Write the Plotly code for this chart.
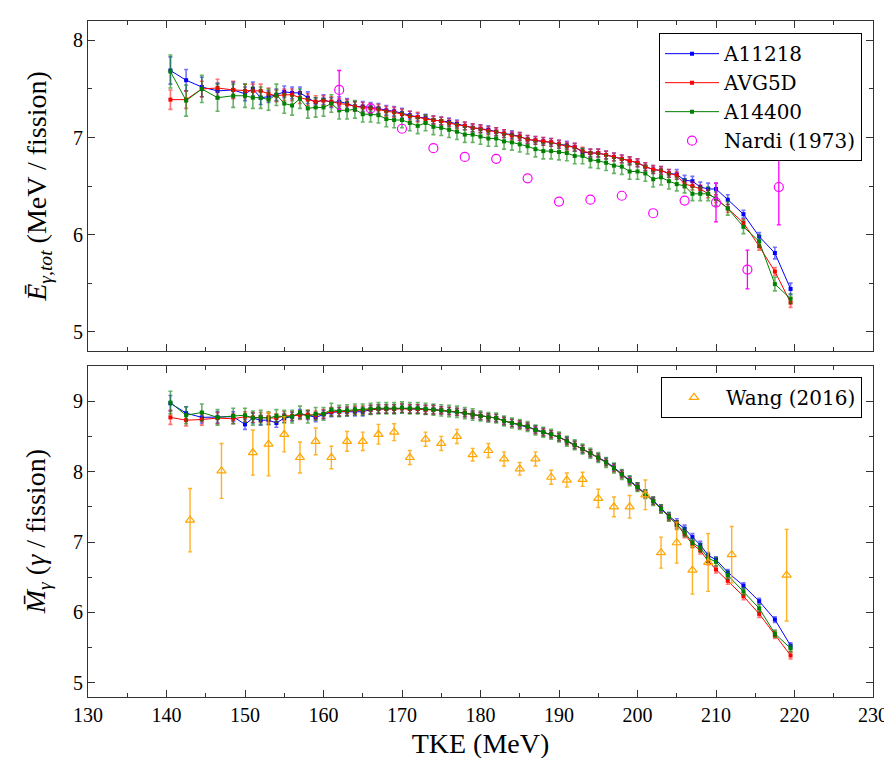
import plotly.graph_objects as go

# ---------------- data ----------------
tke = [140.5, 142.5, 144.5, 146.5, 148.5,
       150, 151, 152, 153, 154, 155, 156, 157, 158, 159,
       160, 161, 162, 163, 164, 165, 166, 167, 168, 169,
       170, 171, 172, 173, 174, 175, 176, 177, 178, 179,
       180, 181, 182, 183, 184, 185, 186, 187, 188, 189,
       190, 191, 192, 193, 194, 195, 196, 197, 198, 199,
       200, 201, 202, 203, 204, 205, 206, 207, 208, 209,
       210,
       211.5, 213.5, 215.5, 217.5, 219.5]

# Top panel: mean total gamma energy (MeV / fission)
e_a11218 = [7.69, 7.59, 7.52, 7.48, 7.49,
            7.45, 7.50, 7.41, 7.42, 7.44, 7.47, 7.46, 7.46, 7.41, 7.36,
            7.39, 7.36, 7.37, 7.35, 7.32, 7.32, 7.31, 7.30, 7.28, 7.27,
            7.25, 7.23, 7.21, 7.20, 7.18, 7.17, 7.16, 7.14, 7.12, 7.10,
            7.09, 7.08, 7.06, 7.04, 7.03, 7.01, 6.98, 6.97, 6.96, 6.95,
            6.93, 6.92, 6.90, 6.85, 6.84, 6.84, 6.82, 6.80, 6.78, 6.76,
            6.74, 6.70, 6.67, 6.66, 6.63, 6.62, 6.56, 6.55, 6.49, 6.47,
            6.47,
            6.36, 6.21, 5.98, 5.81, 5.44]
e_a11218_err = [0.14, 0.11, 0.10, 0.08, 0.08,
                0.07, 0.07, 0.07, 0.06, 0.06, 0.06, 0.06, 0.06, 0.06, 0.05,
                0.05, 0.05, 0.05, 0.05, 0.05, 0.05, 0.05, 0.05, 0.05, 0.05,
                0.05, 0.04, 0.04, 0.04, 0.04, 0.04, 0.04, 0.04, 0.04, 0.04,
                0.04, 0.04, 0.04, 0.04, 0.04, 0.04, 0.04, 0.04, 0.04, 0.04,
                0.04, 0.04, 0.04, 0.04, 0.04, 0.04, 0.04, 0.04, 0.04, 0.04,
                0.04, 0.04, 0.04, 0.04, 0.04, 0.05, 0.05, 0.05, 0.05, 0.06,
                0.06,
                0.05, 0.04, 0.04, 0.06, 0.06]

e_avg5d = [7.39, 7.39, 7.50, 7.51, 7.49,
           7.48, 7.48, 7.48, 7.45, 7.43, 7.44, 7.44, 7.41, 7.39, 7.37,
           7.38, 7.37, 7.35, 7.34, 7.32, 7.31, 7.30, 7.29, 7.27, 7.26,
           7.24, 7.22, 7.21, 7.19, 7.18, 7.17, 7.15, 7.13, 7.12, 7.10,
           7.09, 7.07, 7.06, 7.04, 7.02, 7.01, 6.98, 6.97, 6.96, 6.95,
           6.93, 6.91, 6.90, 6.86, 6.84, 6.84, 6.82, 6.80, 6.78, 6.76,
           6.74, 6.70, 6.67, 6.66, 6.63, 6.61, 6.52, 6.50, 6.47, 6.42,
           6.37,
           6.27, 6.12, 5.88, 5.62, 5.30]
e_avg5d_err = [0.10, 0.09, 0.08, 0.09, 0.09,
               0.07, 0.07, 0.07, 0.06, 0.06, 0.06, 0.06, 0.06, 0.06, 0.06,
               0.05, 0.05, 0.05, 0.05, 0.05, 0.05, 0.05, 0.05, 0.05, 0.05,
               0.05, 0.05, 0.05, 0.04, 0.04, 0.04, 0.04, 0.04, 0.04, 0.04,
               0.04, 0.04, 0.04, 0.04, 0.04, 0.04, 0.04, 0.04, 0.04, 0.04,
               0.04, 0.04, 0.04, 0.04, 0.04, 0.04, 0.04, 0.04, 0.04, 0.04,
               0.04, 0.04, 0.04, 0.04, 0.04, 0.04, 0.04, 0.04, 0.04, 0.04,
               0.04,
               0.04, 0.04, 0.04, 0.04, 0.05]

e_a14400 = [7.68, 7.38, 7.50, 7.41, 7.43,
            7.43, 7.41, 7.41, 7.39, 7.44, 7.35, 7.33, 7.40, 7.30, 7.31,
            7.31, 7.35, 7.28, 7.28, 7.29, 7.24, 7.24, 7.23, 7.19, 7.18,
            7.18, 7.15, 7.12, 7.15, 7.11, 7.10, 7.08, 7.06, 7.03, 7.03,
            7.01, 6.99, 6.99, 6.96, 6.95, 6.93, 6.91, 6.88, 6.86, 6.86,
            6.85, 6.84, 6.81, 6.81, 6.77, 6.76, 6.74, 6.71, 6.70, 6.65,
            6.65, 6.63, 6.57, 6.59, 6.55, 6.52, 6.50, 6.42, 6.42, 6.42,
            6.37,
            6.27, 6.08, 5.93, 5.49, 5.34]
e_a14400_err = [0.17, 0.16, 0.14, 0.14, 0.12,
                0.12, 0.11, 0.11, 0.11, 0.11, 0.10, 0.10, 0.10, 0.10, 0.10,
                0.09, 0.09, 0.09, 0.09, 0.09, 0.08, 0.08, 0.08, 0.08, 0.08,
                0.08, 0.08, 0.08, 0.08, 0.08, 0.08, 0.08, 0.08, 0.08, 0.08,
                0.08, 0.08, 0.08, 0.08, 0.08, 0.08, 0.08, 0.08, 0.08, 0.08,
                0.08, 0.08, 0.08, 0.08, 0.08, 0.08, 0.08, 0.08, 0.08, 0.08,
                0.08, 0.08, 0.08, 0.08, 0.08, 0.07, 0.07, 0.07, 0.07, 0.07,
                0.07,
                0.07, 0.07, 0.06, 0.07, 0.05]

# Nardi (1973): all points, and the subset that carries error bars
nardi_tke = [162, 166, 170, 174, 178, 182, 186, 190, 194, 198, 202, 206, 210, 214, 218]
nardi_e = [7.49, 7.30, 7.09, 6.89, 6.80, 6.78, 6.58, 6.34, 6.36, 6.40, 6.22, 6.35, 6.33, 5.64, 6.49]
nardi_err_tke = [162, 210, 214, 218]
nardi_err_e = [7.49, 6.33, 5.64, 6.49]
nardi_err = [0.20, 0.20, 0.20, 0.39]

# Bottom panel: mean gamma multiplicity
m_a11218 = [8.97, 8.83, 8.77, 8.77, 8.78,
            8.67, 8.76, 8.73, 8.73, 8.69, 8.76, 8.78, 8.82, 8.80, 8.77,
            8.81, 8.84, 8.85, 8.85, 8.85, 8.85, 8.88, 8.89, 8.89, 8.89,
            8.90, 8.89, 8.89, 8.88, 8.88, 8.87, 8.86, 8.85, 8.83, 8.81,
            8.79, 8.77, 8.76, 8.72, 8.69, 8.67, 8.64, 8.60, 8.56, 8.53,
            8.49, 8.44, 8.38, 8.32, 8.26, 8.20, 8.14, 8.06, 7.97, 7.88,
            7.79, 7.69, 7.59, 7.48, 7.37, 7.28, 7.19, 7.07, 6.96, 6.81,
            6.75,
            6.57, 6.38, 6.16, 5.90, 5.53]
m_a11218_err = [0.11, 0.09, 0.08, 0.08, 0.07,
                0.07, 0.07, 0.07, 0.06, 0.06, 0.06, 0.06, 0.06, 0.06, 0.06,
                0.06, 0.06, 0.06, 0.06, 0.06, 0.06, 0.06, 0.06, 0.06, 0.06,
                0.06, 0.06, 0.06, 0.06, 0.06, 0.05, 0.05, 0.05, 0.05, 0.05,
                0.05, 0.05, 0.05, 0.05, 0.05, 0.05, 0.05, 0.05, 0.05, 0.05,
                0.05, 0.05, 0.05, 0.05, 0.05, 0.05, 0.05, 0.05, 0.05, 0.05,
                0.05, 0.05, 0.05, 0.05, 0.05, 0.05, 0.05, 0.05, 0.05, 0.04,
                0.04,
                0.04, 0.04, 0.04, 0.04, 0.04]

m_avg5d = [8.77, 8.73, 8.74, 8.76, 8.75,
           8.78, 8.77, 8.77, 8.77, 8.76, 8.79, 8.79, 8.80, 8.81, 8.80,
           8.82, 8.85, 8.85, 8.86, 8.87, 8.87, 8.88, 8.89, 8.89, 8.89,
           8.90, 8.89, 8.89, 8.88, 8.88, 8.87, 8.86, 8.85, 8.83, 8.81,
           8.79, 8.77, 8.76, 8.72, 8.69, 8.67, 8.64, 8.59, 8.56, 8.53,
           8.49, 8.43, 8.38, 8.32, 8.26, 8.20, 8.13, 8.05, 7.96, 7.87,
           7.78, 7.68, 7.58, 7.47, 7.35, 7.25, 7.11, 6.97, 6.88, 6.73,
           6.61,
           6.45, 6.23, 5.98, 5.68, 5.39]
m_avg5d_err = [0.10, 0.08, 0.08, 0.08, 0.07,
               0.07, 0.07, 0.07, 0.06, 0.06, 0.06, 0.06, 0.06, 0.06, 0.06,
               0.06, 0.06, 0.06, 0.06, 0.06, 0.06, 0.06, 0.06, 0.06, 0.06,
               0.06, 0.06, 0.06, 0.06, 0.06, 0.05, 0.05, 0.05, 0.05, 0.05,
               0.05, 0.05, 0.05, 0.05, 0.05, 0.05, 0.05, 0.05, 0.05, 0.05,
               0.05, 0.05, 0.05, 0.05, 0.05, 0.05, 0.05, 0.05, 0.05, 0.05,
               0.05, 0.05, 0.05, 0.05, 0.05, 0.05, 0.05, 0.05, 0.05, 0.05,
               0.05,
               0.05, 0.05, 0.05, 0.05, 0.05]

m_a14400 = [8.98, 8.80, 8.84, 8.77, 8.79,
            8.80, 8.76, 8.77, 8.76, 8.79, 8.78, 8.78, 8.84, 8.78, 8.82,
            8.82, 8.88, 8.86, 8.87, 8.88, 8.88, 8.89, 8.90, 8.90, 8.90,
            8.91, 8.90, 8.90, 8.89, 8.88, 8.87, 8.86, 8.85, 8.83, 8.81,
            8.79, 8.77, 8.76, 8.72, 8.69, 8.67, 8.64, 8.59, 8.56, 8.53,
            8.49, 8.43, 8.38, 8.32, 8.26, 8.20, 8.13, 8.05, 7.96, 7.87,
            7.78, 7.68, 7.58, 7.47, 7.36, 7.24, 7.14, 6.99, 6.92, 6.77,
            6.72,
            6.53, 6.30, 6.06, 5.70, 5.49]
m_a14400_err = [0.16, 0.12, 0.12, 0.11, 0.11,
                0.10, 0.10, 0.10, 0.09, 0.09, 0.09, 0.09, 0.09, 0.09, 0.09,
                0.09, 0.09, 0.08, 0.08, 0.08, 0.08, 0.08, 0.08, 0.08, 0.08,
                0.08, 0.08, 0.08, 0.08, 0.08, 0.08, 0.08, 0.08, 0.08, 0.08,
                0.07, 0.07, 0.07, 0.07, 0.07, 0.07, 0.07, 0.07, 0.07, 0.07,
                0.07, 0.07, 0.07, 0.07, 0.07, 0.07, 0.07, 0.07, 0.07, 0.07,
                0.06, 0.06, 0.06, 0.06, 0.06, 0.06, 0.06, 0.06, 0.06, 0.06,
                0.06,
                0.05, 0.05, 0.05, 0.05, 0.05]

wang_tke = [143, 147, 151, 153, 155, 157, 159, 161, 163, 165, 167, 169, 171, 173, 175,
            177, 179, 181, 183, 185, 187, 189, 191, 193, 195, 197, 199, 201, 203, 205,
            207, 209, 212, 219]
wang_m = [7.31, 8.01, 8.27, 8.39, 8.53, 8.20, 8.43, 8.20, 8.43, 8.43, 8.53, 8.56, 8.20, 8.46, 8.40,
          8.50, 8.24, 8.30, 8.18, 8.04, 8.18, 7.92, 7.88, 7.89, 7.62, 7.50, 7.50, 7.67, 6.85, 6.99,
          6.60, 6.71, 6.82, 6.53]
wang_err = [0.45, 0.39, 0.32, 0.45, 0.25, 0.22, 0.19, 0.16, 0.14, 0.13, 0.14, 0.12, 0.10, 0.10, 0.10,
            0.10, 0.09, 0.10, 0.10, 0.09, 0.10, 0.10, 0.10, 0.10, 0.13, 0.14, 0.16, 0.21, 0.22, 0.29,
            0.34, 0.41, 0.40, 0.65]

# ---------------- figure ----------------
TICKFONT = "Liberation Serif"
TITLEFONT = "Liberation Serif"
LEGENDFONT = "DejaVu Serif"
models = [
    ("A11218", "#0000ff", "rgba(0,0,255,0.55)", e_a11218, e_a11218_err, m_a11218, m_a11218_err),
    ("AVG5D", "#ff0000", "rgba(255,0,0,0.55)", e_avg5d, e_avg5d_err, m_avg5d, m_avg5d_err),
    ("A14400", "#008000", "rgba(0,128,0,0.6)", e_a14400, e_a14400_err, m_a14400, m_a14400_err),
]

fig = go.Figure()
for name, col, ecol, ey, eerr, my, merr in models:
    fig.add_trace(go.Scatter(
        x=tke, y=ey, name=name, mode="lines+markers", xaxis="x", yaxis="y",
        line=dict(color=col, width=1), marker=dict(symbol="square", size=4, color=col),
        error_y=dict(type="data", array=eerr, color=ecol, thickness=1.6, width=2),
        legend="legend"))
fig.add_trace(go.Scatter(
    x=nardi_err_tke, y=nardi_err_e, name="Nardi (1973)", mode="markers", xaxis="x", yaxis="y",
    marker=dict(symbol="circle-open", size=9, color="rgba(0,0,0,0)"),
    error_y=dict(type="data", array=nardi_err, color="#ff00ff", thickness=1.3, width=2),
    showlegend=False, hoverinfo="skip"))
fig.add_trace(go.Scatter(
    x=nardi_tke, y=nardi_e, name="Nardi (1973)", mode="markers", xaxis="x", yaxis="y",
    marker=dict(symbol="circle-open", size=9, color="#ff00ff", line=dict(width=1.2)),
    legend="legend"))

for name, col, ecol, ey, eerr, my, merr in models:
    fig.add_trace(go.Scatter(
        x=tke, y=my, name=name, mode="lines+markers", xaxis="x2", yaxis="y2",
        line=dict(color=col, width=1), marker=dict(symbol="square", size=4, color=col),
        error_y=dict(type="data", array=merr, color=ecol, thickness=1.6, width=2),
        showlegend=False))
fig.add_trace(go.Scatter(
    x=wang_tke, y=wang_m, name="Wang (2016)", mode="markers", xaxis="x2", yaxis="y2",
    marker=dict(symbol="triangle-up-open", size=8, color="#ffa500", line=dict(width=1.2)),
    error_y=dict(type="data", array=wang_err, color="rgba(255,165,0,0.85)", thickness=1.4, width=2),
    legend="legend2"))

axis_common = dict(
    showline=True, linecolor="#333", linewidth=1, mirror="allticks",
    ticks="inside", ticklen=7, tickcolor="#333", tickwidth=1,
    showgrid=False, zeroline=False,
    tickfont=dict(family=TICKFONT, size=20, color="black"),
)
xminor = dict(dtick=5, ticks="inside", ticklen=4, tickcolor="#333", showgrid=False)
yminor = dict(dtick=0.5, ticks="inside", ticklen=4, tickcolor="#333", showgrid=False)

top_dom = [0.5117, 1.0]
bot_dom = [0.0, 0.4897]

fig.update_layout(
    width=892, height=758,
    margin=dict(l=80, r=18, t=12, b=64),
    paper_bgcolor="white", plot_bgcolor="white",
    font=dict(family=TITLEFONT, size=20, color="black"),
    xaxis=dict(**axis_common, range=[130, 230], dtick=10, minor=xminor,
               anchor="y", domain=[0, 1], showticklabels=False, matches="x2"),
    yaxis=dict(**axis_common, range=[4.8, 8.2], dtick=1, minor=yminor,
               anchor="x", domain=top_dom),
    xaxis2=dict(**axis_common, range=[130, 230], dtick=10, minor=xminor,
                anchor="y2", domain=[0, 1],
                title=dict(text="TKE (MeV)", font=dict(family=TITLEFONT, size=28), standoff=8)),
    yaxis2=dict(**axis_common, range=[4.8, 9.5], dtick=1, minor=yminor,
                anchor="x2", domain=bot_dom),
    legend=dict(x=0.986, y=0.982, xanchor="right", yanchor="top",
                bgcolor="white", bordercolor="black", borderwidth=1,
                font=dict(family=LEGENDFONT, size=20), tracegroupgap=0, itemwidth=54),
    legend2=dict(x=0.986, y=0.4736, xanchor="right", yanchor="top",
                 bgcolor="white", bordercolor="black", borderwidth=1,
                 font=dict(family=LEGENDFONT, size=20), itemwidth=54),
    showlegend=True,
    annotations=[
        dict(text="<i>Ē</i><sub><i>γ,tot</i></sub> (MeV / fission)", textangle=-90,
             xref="paper", yref="paper", x=-0.064, y=(top_dom[0] + top_dom[1]) / 2,
             xanchor="center", yanchor="middle", showarrow=False,
             font=dict(family=TITLEFONT, size=28, color="black")),
        dict(text="<i>M̄</i><sub><i>γ</i></sub> (<i>γ</i> / fission)", textangle=-90,
             xref="paper", yref="paper", x=-0.064, y=(bot_dom[0] + bot_dom[1]) / 2,
             xanchor="center", yanchor="middle", showarrow=False,
             font=dict(family=TITLEFONT, size=28, color="black")),
    ],
)

fig.write_html("out.html")
